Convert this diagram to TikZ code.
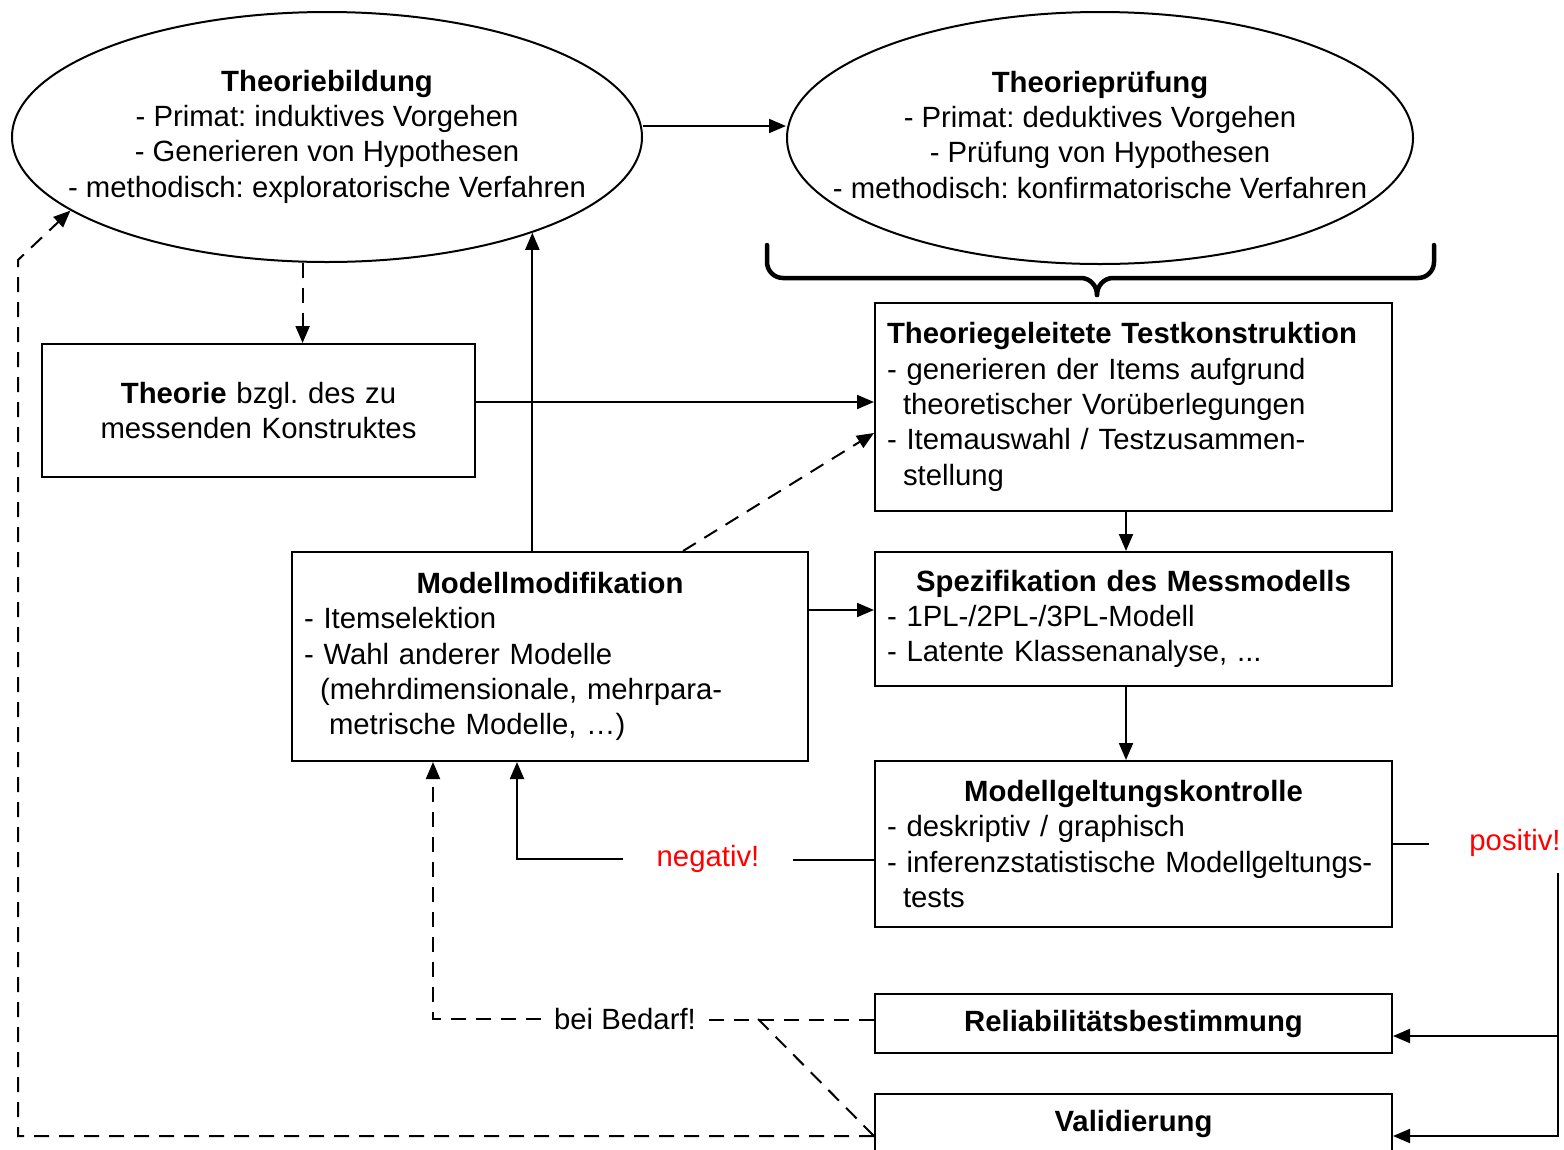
\documentclass[tikz,border=0pt]{standalone}
\usepackage{fontspec}
\setmainfont{Liberation Sans}
\usepackage{tikz}
\usetikzlibrary{positioning, shapes.geometric, arrows.meta}
\frenchspacing

\begin{document}
\begin{tikzpicture}[x=1pt, y=-1pt, line width=2pt,
	font=\fontsize{29.3}{35.3}\selectfont,
	>={Triangle[length=17pt,width=14pt]},
	oval/.style = {draw, ellipse, inner sep=0pt, minimum width=630pt, minimum height=250pt},
	box/.style = {draw, rectangle, inner xsep=12pt, inner ysep=0pt, text width=493pt, align=left},
	dashline/.style = {dash pattern=on 15pt off 10pt},
	klammer/.style = {line width=4.5pt, line cap=round},
	lbl/.style = {text=red, inner xsep=33pt}]
	\useasboundingbox (0,0) rectangle (1564,1149);
	% Theorie oben
	\node[oval] (bild) at (327,137) {\makebox[0pt]{\begin{tabular}{@{}c@{}}\textbf{Theoriebildung}\\- Primat: induktives Vorgehen\\- Generieren von Hypothesen\\- methodisch: exploratorische Verfahren\end{tabular}}};
	\node[oval, minimum width=626pt, minimum height=252pt] (pruef) at (1100,138) {\makebox[0pt]{\begin{tabular}{@{}c@{}}\textbf{Theorieprüfung}\\- Primat: deduktives Vorgehen\\- Prüfung von Hypothesen\\- methodisch: konfirmatorische Verfahren\end{tabular}}};
	\draw[klammer] (767,245) -- (767,262) to[out=-90,in=180] (783,278) -- (1081,278) to[out=0,in=90] (1097,295);
	\draw[klammer] (1434,245) -- (1434,262) to[out=-90,in=0] (1418,278) -- (1113,278) to[out=180,in=90] (1097,295);
	% Kaesten
	\node[box, text width=409pt, minimum height=133pt, align=center] (theo) at (258.5,410.5) {\textbf{Theorie} bzgl. des zu\\messenden Konstruktes};
	\node[box, minimum height=208pt] (konstr) at (1133.5,407) {\textbf{Theoriegeleitete Testkonstruktion}\\- generieren der Items aufgrund\\\hspace*{16pt}theoretischer Vorüberlegungen\\- Itemauswahl / Testzusammen-\\\hspace*{16pt}stellung};
	\node[box, minimum height=134pt, below=39pt of konstr] (spez) {\makebox[\hsize]{\textbf{Spezifikation des Messmodells}}\\- 1PL-/2PL-/3PL-Modell\\- Latente Klassenanalyse, ...};
	\node[box, minimum height=166pt, below=73pt of spez] (gelt) {\makebox[\hsize]{\textbf{Modellgeltungskontrolle}}\\- deskriptiv / graphisch\\- inferenzstatistische Modellgeltungs-\\\hspace*{16pt}tests};
	\node[box, minimum height=59pt, align=center, below=65pt of gelt] (rel) {\textbf{Reliabilitätsbestimmung}};
	\node[box, minimum height=59pt, align=center, below=39pt of rel] (val) {\textbf{Validierung}};
	\node[box, text width=492pt, minimum height=209pt] (mod) at (550,656.5) {\makebox[\hsize]{\textbf{Modellmodifikation}}\\- Itemselektion\\- Wahl anderer Modelle\\\hspace*{16pt}(mehrdimensionale, mehrpara-\\\hspace*{25pt}metrische Modelle, \dots)};
	% Verbindungen
	\draw[->] ([yshift=11pt]bild.east) -- ([yshift=11pt]bild.east -| pruef.west);
	\draw[dashline,->] (bild.259) -- (bild.259 |- theo.north);
	\draw[->] ([yshift=8.5pt]theo.east) -- ([yshift=8.5pt]theo.east -| konstr.west);
	\draw[->] (mod.north -| bild.335) -- (bild.335);
	\draw[dashline,->] ([xshift=133pt]mod.north) -- ([yshift=-26pt]konstr.west);
	\draw[->] ([xshift=-7.5pt]konstr.south) -- ([xshift=-7.5pt]spez.north);
	\draw[->] ([yshift=9pt]spez.west -| mod.east) -- ([yshift=9pt]spez.west);
	\draw[->] ([xshift=-7.5pt]spez.south) -- ([xshift=-7.5pt]gelt.north);
	% negativ / positiv
	\node[lbl] (neg) at (708,859) {negativ!};
	\draw ([yshift=-16pt]gelt.west) -- ([yshift=-16pt]gelt.west -| neg.east);
	\draw[->] (neg.west) -| ([xshift=-33pt]mod.south);
	\node[lbl, inner xsep=39pt] (pos) at (1515,843) {positiv!};
	\draw (gelt.east) -- (gelt.east -| pos.west);
	\coordinate (pc) at (1558,873);
	\draw[->] (pc) |- ([yshift=-12.5pt]rel.east);
	\draw[->] (pc) |- ([yshift=-12.5pt]val.east);
	% bei Bedarf
	\node[inner xsep=12pt] (bed) at (625,1019) {bei Bedarf!};
	\draw[dashline] ([yshift=3.5pt]rel.west) -- ([yshift=3.5pt]rel.west -| bed.east);
	\draw[dashline,->] (bed.west) -| ([xshift=-117pt]mod.south);
	\coordinate (bk) at (758,1019);
	\draw[dashline] (bk) -- ([yshift=-12.5pt]val.west);
	\coordinate (lc) at (18,260);
	\draw[dashline,->] ([yshift=-12.5pt]val.west) -| (lc) -- (bild.196);
\end{tikzpicture}
\end{document}
